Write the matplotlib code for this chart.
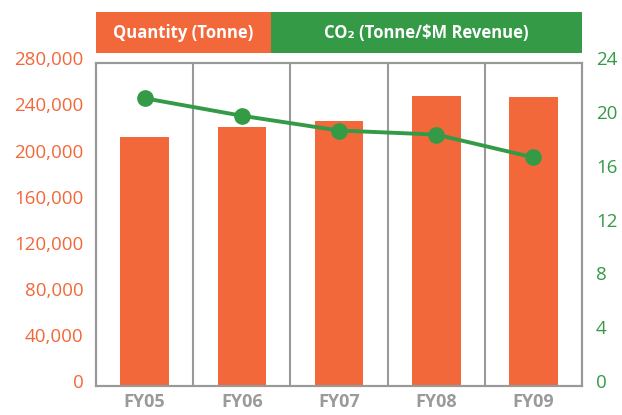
import numpy as np
import matplotlib
matplotlib.use("Agg")
import matplotlib.pyplot as plt
from matplotlib.patches import Rectangle
from matplotlib.transforms import ScaledTranslation

years = ["FY05", "FY06", "FY07", "FY08", "FY09"]
quantity = [216000, 224700, 229900, 251600, 250800]
co2 = [21.4, 20.1, 19.0, 18.7, 17.0]
left_ticks = [0, 40000, 80000, 120000, 160000, 200000, 240000, 280000]
right_ticks = [0, 4, 8, 12, 16, 20, 24]

orange = "#F2683A"
green = "#349A46"
gray = "#999999"

plt.rcParams['font.family'] = ['Open Sans', 'DejaVu Sans']

fig = plt.figure(figsize=(6.22, 4.15), dpi=100)
ax = fig.add_axes([96/622, 1-386/415, 486/622, 322.7/415])
x = np.arange(len(years))

ax.bar(x, quantity, width=0.5, color=orange, zorder=2)
ax.set_xlim(-0.5, len(years)-0.5)
ax.set_ylim(0, 280000)
ax.set_yticks(left_ticks)
ax.set_yticklabels([f"{v:,}" for v in left_ticks])
ax.set_xticks(x)
ax.set_xticklabels(years, fontweight="bold", color="#9a9a9a", fontsize=13)
ax.tick_params(axis="y", length=0, pad=9, labelcolor=orange, labelsize=13.5)
ax.tick_params(axis="x", length=0, pad=5)

# category separators
for b in x[:-1] + 0.5:
    ax.axvline(b, color=gray, lw=1.5, zorder=1)

for s in ax.spines.values():
    s.set_color(gray)
    s.set_linewidth(1.5)

ax2 = ax.twinx()
ax2.plot(x, co2, color=green, lw=2.8, marker="o", markersize=11, zorder=3)
ax2.set_ylim(0, 24)
ax2.set_yticks(right_ticks)
ax2.tick_params(axis="y", length=0, pad=10, labelcolor=green, labelsize=13.5)
for s in ax2.spines.values():
    s.set_color(gray)
    s.set_linewidth(1.5)

off = ScaledTranslation(0, 5/100, fig.dpi_scale_trans)
for lab in ax.get_yticklabels() + ax2.get_yticklabels():
    lab.set_transform(lab.get_transform() + off)

# header boxes
fig.add_artist(Rectangle((96/622, 1-53/415), 175/622, 41/415,
                         transform=fig.transFigure, color=orange, lw=0))
fig.add_artist(Rectangle((271/622, 1-53/415), 311/622, 41/415,
                         transform=fig.transFigure, color=green, lw=0))
fig.text((96+271)/2/622, 1-33/415, "Quantity (Tonne)", color="white",
         fontweight="bold", fontsize=12, ha="center", va="center")
fig.text((271+582)/2/622, 1-33/415, "CO₂ (Tonne/$M Revenue)", color="white",
         fontweight="bold", fontsize=12, ha="center", va="center")

fig.savefig("out.png", dpi=100)
